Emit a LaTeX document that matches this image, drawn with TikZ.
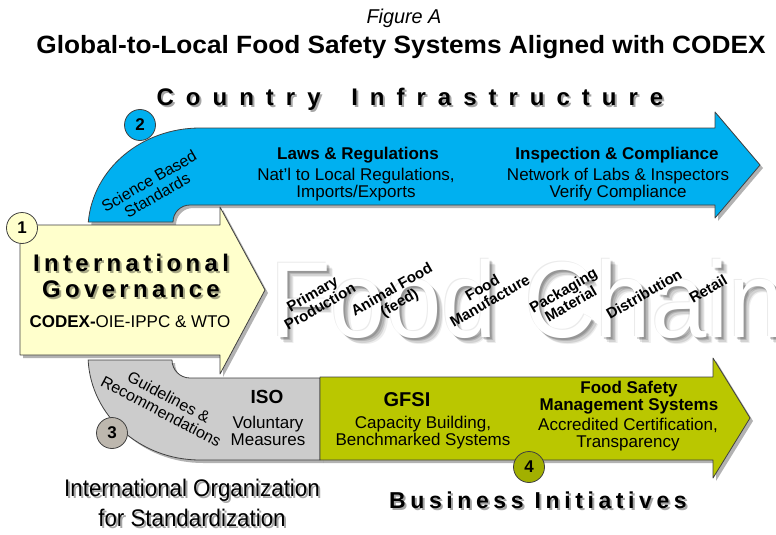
\documentclass[tikz,border=0pt]{standalone}
\usepackage{fontspec}
\setmainfont{Liberation Sans}
\usepackage{graphicx}
\usetikzlibrary{shadows}

\definecolor{infrablue}{HTML}{00B0F0}
\definecolor{bizgreen}{HTML}{BAC700}
\definecolor{govyellow}{HTML}{FFFFCC}
\definecolor{isogray}{HTML}{CCCCCC}
\definecolor{edgegray}{HTML}{404040}
\definecolor{badgegray}{HTML}{BDB7AE}
\definecolor{badgegreen}{HTML}{A2B000}

\newcommand{\chainfont}{\fontsize{108}{108}\selectfont}

\begin{document}
\begin{tikzpicture}[x=1pt,y=-1pt,
  panel/.style={draw=edgegray, line width=0.8pt, line join=round,
    drop shadow={shadow xshift=3pt, shadow yshift=-3pt, fill=black, opacity=0.3}},
  badge/.style={circle, draw=edgegray, line width=0.8pt, minimum size=31pt,
    inner sep=0pt, font=\bfseries\fontsize{17}{17}\selectfont},
  bodytext/.style={align=center, inner sep=0pt, font=\fontsize{17}{17}\selectfont},
  headtext/.style={align=center, inner sep=0pt, font=\bfseries\fontsize{17}{17}\selectfont},
  stagetext/.style={align=center, inner sep=0pt, rotate=30,
    font=\bfseries\fontsize{15}{15}\selectfont},
  shade/.style={text=black, opacity=0.35}
]
\useasboundingbox (0,0) rectangle (776,535);
\fill[white] (0,0) rectangle (776,535);

% ---------- headings ----------
\node[inner sep=0pt] (fig) at (404,18)
  {\resizebox{75pt}{\height}{\itshape\fontsize{20}{20}\selectfont Figure A}};
\node[inner sep=0pt] (title) at (401,47)
  {\resizebox{729pt}{\height}{\bfseries\fontsize{25}{25}\selectfont Global-to-Local Food Safety Systems Aligned with CODEX}};

\node[inner sep=0pt, shade] (countrysh) at (412,101)
  {\bfseries\addfontfeature{LetterSpace=50}\fontsize{24}{24}\selectfont Country\hspace{12pt} Infrastructure};
\node[inner sep=0pt] (country) at (410,99)
  {\bfseries\addfontfeature{LetterSpace=50}\fontsize{24}{24}\selectfont Country\hspace{12pt} Infrastructure};

% ---------- Food Chain watermark ----------
\foreach \i/\dx/\dy/\o in {1/-1/-1/0.08, 2/2/2/0.16, 3/3.5/3.5/0.14, 4/5/5/0.11, 5/6.5/6.5/0.07}{
  \node[anchor=base west, inner sep=0pt, text=black, opacity=\o] (chainsh\i) at (270+\dx,337+\dy)
    {\scalebox{0.92}[1]{\chainfont Food Chain}};
}
\node[anchor=base west, inner sep=0pt, text=white] (chain) at (270,337)
  {\scalebox{0.92}[1]{\chainfont Food Chain}};

% ---------- country infrastructure arrow ----------
\path[panel, fill=infrablue]
  (88.3,222) arc[start angle=184.5, end angle=270, x radius=112, y radius=102]
  -- (715,128) -- (715,112) -- (760,165) -- (715,218) -- (715,205) -- (190,205)
  arc[start angle=270, end angle=180, radius=17] -- cycle;

% ---------- ISO panel ----------
\path[panel, fill=isogray]
  (88.1,360) -- (172,360) arc[start angle=180, end angle=90, radius=18]
  -- (320,378) -- (320,460) -- (200,460)
  arc[start angle=90, end angle=177.3, x radius=112, y radius=105] -- cycle;

% ---------- business initiatives arrow ----------
\path[panel, fill=bizgreen]
  (320,377) -- (713,377) -- (713,358) -- (750,418) -- (713,478) -- (713,460) -- (320,460) -- cycle;

% ---------- international governance arrow ----------
\path[panel, fill=govyellow]
  (20,225) -- (220,225) -- (220,207) -- (265,290) -- (220,374) -- (220,355) -- (20,355) -- cycle;

% ---------- texts on the blue arrow ----------
\node[rotate=30, bodytext, font=\fontsize{16}{16.5}\selectfont] (sci) at (153,188) {Science Based\\Standards};
\node[headtext] (laws) at (358,155) {Laws \& Regulations};
\node[bodytext] (lawsdesc) at (356,185) {Nat’l to Local Regulations,\\Imports/Exports};
\node[headtext] (insp) at (617,155) {Inspection \& Compliance};
\node[bodytext] (inspdesc) at (618,185) {Network of Labs \& Inspectors\\Verify Compliance};

% ---------- texts on the yellow arrow ----------
\node[inner sep=0pt, shade] (govsh) at (133,281)
  {\bfseries\addfontfeature{LetterSpace=18}\fontsize{24}{26}\selectfont
   \begin{tabular}{@{}c@{}}International\\Governance\end{tabular}};
\node[inner sep=0pt] (gov) at (131,279)
  {\bfseries\addfontfeature{LetterSpace=18}\fontsize{24}{26}\selectfont
   \begin{tabular}{@{}c@{}}International\\Governance\end{tabular}};
\node[inner sep=0pt, font=\fontsize{17}{17}\selectfont] (codex) at (130,322)
  {\textbf{CODEX-}OIE-IPPC \& WTO};

% ---------- food chain stages ----------
\node[stagetext] (prim) at (316,300) {Primary\\Production};
\node[stagetext] (feed) at (396,297) {Animal Food\\(feed)};
\node[stagetext] (manu) at (486,294) {Food\\Manufacture};
\node[stagetext] (pack) at (567,297) {Packaging\\Material};
\node[stagetext] (dist) at (644,294) {Distribution};
\node[stagetext] (retail) at (708,289) {Retail};

% ---------- texts on the ISO panel ----------
\node[rotate=-28, bodytext, font=\fontsize{16}{16.5}\selectfont] (guide) at (165,404) {Guidelines \&\\Recommendations};
\node[headtext, font=\bfseries\fontsize{19}{19}\selectfont] (iso) at (267,397) {ISO};
\node[bodytext] (isodesc) at (268,431) {Voluntary\\Measures};

% ---------- texts on the green arrow ----------
\node[headtext, font=\bfseries\fontsize{20}{20}\selectfont] (gfsi) at (407,400) {GFSI};
\node[bodytext] (gfsidesc) at (423,433) {Capacity Building,\\Benchmarked Systems};
\node[headtext] (fsms) at (629,398) {Food Safety\\Management Systems};
\node[bodytext] (fsmsdesc) at (628,435) {Accredited Certification,\\Transparency};

% ---------- badges ----------
\node[badge, fill=govyellow] (b1) at (22,228) {1};
\node[badge, fill=infrablue] (b2) at (140,125) {2};
\node[badge, fill=badgegray] (b3) at (112,433) {3};
\node[badge, fill=badgegreen] (b4) at (529,467) {4};

% ---------- bottom captions ----------
\node[inner sep=0pt, shade] (isonamesh) at (194,507)
  {\scalebox{0.93}[1]{\fontsize{24}{30}\selectfont\begin{tabular}{@{}c@{}}International Organization\\for Standardization\end{tabular}}};
\node[inner sep=0pt] (isoname) at (192,505)
  {\scalebox{0.93}[1]{\fontsize{24}{30}\selectfont\begin{tabular}{@{}c@{}}International Organization\\for Standardization\end{tabular}}};
\node[inner sep=0pt, shade] (bizsh) at (540,502)
  {\bfseries\addfontfeature{LetterSpace=20}\fontsize{23}{23}\selectfont Business Initiatives};
\node[inner sep=0pt] (biz) at (538,500)
  {\bfseries\addfontfeature{LetterSpace=20}\fontsize{23}{23}\selectfont Business Initiatives};
\end{tikzpicture}
\end{document}
